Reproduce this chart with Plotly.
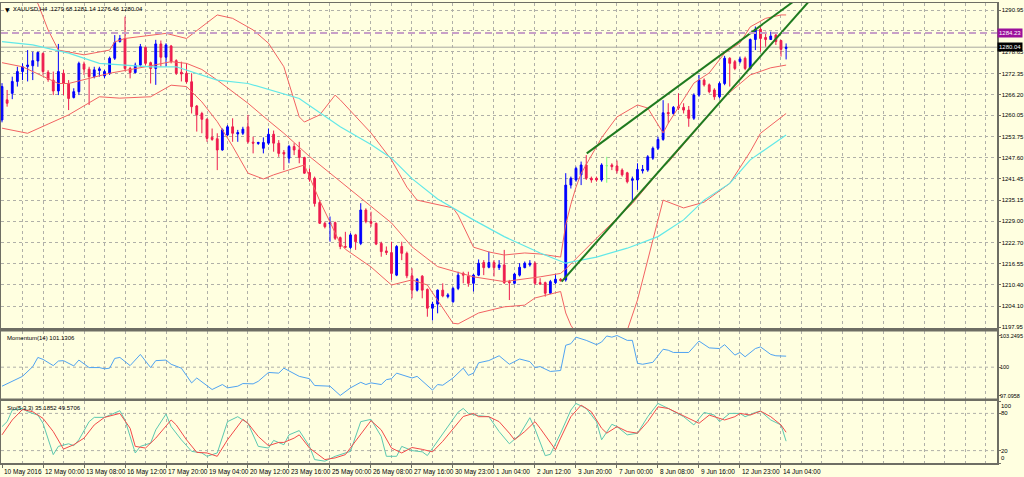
import plotly.graph_objects as go

# ---------------- data ----------------
bars = list(range(154))
open_ = [
    1258.7, 1264.6, 1266.5, 1270.0, 1272.9, 1274.4, 1274.6, 1276.0, 1278.2, 1272.7,
    1270.4, 1267.2, 1272.4, 1269.4, 1265.3, 1267.0, 1275.1, 1273.6, 1271.4, 1273.2,
    1271.6, 1272.4, 1276.8, 1281.7, 1282.6, 1273.8, 1272.6, 1274.8, 1280.0, 1275.5,
    1273.8, 1281.0, 1277.1, 1280.4, 1276.1, 1272.7, 1272.4, 1269.9, 1262.8, 1260.6,
    1258.9, 1253.6, 1253.2, 1249.9, 1254.3, 1256.7, 1254.6, 1254.8, 1256.7, 1252.2,
    1251.8, 1250.4, 1251.9, 1254.5, 1251.9, 1249.2, 1247.5, 1250.9, 1249.9, 1247.7,
    1243.3, 1241.6, 1234.5, 1228.4, 1228.2, 1228.6, 1224.2, 1221.6, 1221.3, 1225.0,
    1222.5, 1232.3, 1228.9, 1228.4, 1222.5, 1220.3, 1219.8, 1213.2, 1221.6, 1219.6,
    1213.0, 1208.8, 1212.9, 1209.0, 1203.5, 1204.7, 1208.8, 1206.9, 1205.4, 1209.3,
    1213.7, 1212.9, 1210.8, 1213.2, 1216.9, 1215.5, 1216.9, 1215.4, 1216.2, 1211.3,
    1210.8, 1213.2, 1215.4, 1216.2, 1216.7, 1211.0, 1211.0, 1207.9, 1211.0, 1212.0,
    1211.8, 1239.6, 1241.1, 1242.6, 1245.5, 1241.6, 1241.6, 1241.1, 1245.3, 1245.5,
    1245.2, 1244.0, 1243.2, 1241.0, 1241.1, 1243.8, 1244.0, 1247.5, 1250.4, 1253.0,
    1260.9, 1260.6, 1262.6, 1262.4, 1261.6, 1259.2, 1266.0, 1270.4, 1269.0, 1267.5,
    1265.5, 1269.4, 1276.8, 1275.8, 1275.8, 1276.8, 1273.8, 1282.3, 1285.3, 1282.9,
    1282.3, 1283.6, 1282.0, 1279.68]
high = [
    1269.5, 1267.5, 1271.4, 1274.3, 1275.3, 1279.2, 1278.7, 1278.7, 1278.5, 1273.3,
    1272.9, 1281.0, 1273.4, 1270.4, 1268.0, 1275.8, 1275.8, 1274.3, 1274.3, 1274.3,
    1273.4, 1277.3, 1283.6, 1283.6, 1289.0, 1274.3, 1275.5, 1281.0, 1280.2, 1275.8,
    1282.2, 1282.0, 1281.2, 1280.7, 1276.5, 1275.8, 1275.3, 1272.4, 1263.1, 1261.1,
    1259.2, 1256.2, 1254.8, 1256.2, 1257.2, 1259.2, 1255.8, 1256.7, 1260.2, 1253.8,
    1252.3, 1253.6, 1256.2, 1255.6, 1252.8, 1249.9, 1251.4, 1251.9, 1252.3, 1247.9,
    1244.5, 1242.1, 1235.2, 1228.9, 1230.4, 1228.9, 1224.5, 1225.9, 1225.5, 1225.3,
    1234.3, 1232.8, 1231.8, 1228.6, 1223.0, 1221.6, 1223.0, 1222.0, 1223.0, 1220.1,
    1215.2, 1212.3, 1213.2, 1209.3, 1205.4, 1209.0, 1210.8, 1207.9, 1209.8, 1214.2,
    1214.2, 1214.2, 1213.5, 1217.8, 1217.6, 1220.1, 1217.6, 1217.6, 1220.6, 1211.8,
    1213.9, 1216.7, 1217.2, 1217.6, 1217.2, 1212.3, 1211.3, 1211.8, 1213.5, 1212.3,
    1243.1, 1242.1, 1245.0, 1246.5, 1248.4, 1242.1, 1242.1, 1246.0, 1247.9, 1246.0,
    1246.8, 1244.5, 1243.5, 1242.1, 1246.0, 1245.5, 1248.4, 1250.9, 1253.8, 1264.5,
    1263.6, 1262.8, 1266.5, 1263.6, 1262.8, 1266.5, 1271.9, 1270.9, 1269.4, 1268.0,
    1269.9, 1277.5, 1277.1, 1276.3, 1277.3, 1277.3, 1282.6, 1286.1, 1285.9, 1284.6,
    1284.6, 1284.1, 1282.2, 1281.14]
low = [
    1258.0, 1262.6, 1264.8, 1268.5, 1270.4, 1270.0, 1270.4, 1274.3, 1271.9, 1269.9,
    1266.0, 1266.0, 1266.0, 1261.6, 1265.0, 1266.0, 1271.9, 1263.1, 1270.9, 1271.4,
    1270.9, 1271.9, 1276.3, 1281.4, 1273.0, 1270.9, 1272.4, 1274.3, 1274.8, 1269.4,
    1269.0, 1274.3, 1274.3, 1275.3, 1271.9, 1270.0, 1269.4, 1260.6, 1255.3, 1254.8,
    1252.3, 1252.6, 1244.0, 1249.7, 1254.0, 1252.3, 1252.3, 1254.3, 1251.8, 1248.9,
    1251.4, 1248.9, 1251.4, 1249.4, 1247.9, 1244.0, 1246.0, 1248.4, 1246.0, 1242.9,
    1240.6, 1233.3, 1228.2, 1226.9, 1223.0, 1223.5, 1220.8, 1221.1, 1220.9, 1220.6,
    1222.0, 1228.4, 1227.4, 1222.0, 1218.6, 1219.1, 1211.8, 1212.9, 1217.6, 1212.3,
    1206.4, 1208.4, 1206.4, 1201.0, 1199.9, 1202.0, 1206.7, 1206.4, 1205.1, 1208.8,
    1210.8, 1209.8, 1208.4, 1212.9, 1213.2, 1215.2, 1212.8, 1214.7, 1210.6, 1205.9,
    1210.5, 1212.8, 1215.2, 1215.7, 1210.3, 1210.3, 1206.9, 1207.7, 1210.6, 1211.3,
    1211.3, 1238.6, 1240.6, 1239.6, 1241.1, 1240.3, 1240.6, 1240.6, 1240.3, 1244.0,
    1243.0, 1242.1, 1240.1, 1235.2, 1238.2, 1243.0, 1243.5, 1247.0, 1249.9, 1252.6,
    1257.7, 1260.2, 1261.6, 1260.6, 1256.7, 1258.7, 1265.5, 1268.5, 1266.5, 1264.6,
    1265.0, 1268.9, 1268.5, 1273.3, 1275.3, 1273.3, 1273.5, 1279.2, 1278.7, 1280.2,
    1282.2, 1280.7, 1277.3, 1276.46]
close = [
    1268.5, 1263.6, 1270.0, 1272.9, 1274.3, 1274.8, 1276.1, 1278.5, 1272.9, 1270.6,
    1267.2, 1272.9, 1269.4, 1265.0, 1267.0, 1275.3, 1273.6, 1271.4, 1273.4, 1273.7,
    1272.9, 1276.8, 1281.4, 1282.6, 1273.8, 1272.6, 1274.8, 1280.2, 1275.3, 1273.8,
    1281.0, 1277.1, 1280.7, 1275.8, 1272.4, 1272.2, 1269.9, 1262.6, 1260.2, 1258.9,
    1253.3, 1253.0, 1249.9, 1255.8, 1256.7, 1254.8, 1255.0, 1256.0, 1252.3, 1251.9,
    1252.1, 1252.1, 1254.5, 1251.9, 1248.9, 1248.7, 1250.9, 1249.9, 1247.7, 1243.1,
    1241.3, 1234.2, 1228.4, 1227.4, 1228.6, 1224.0, 1221.6, 1221.4, 1225.0, 1223.0,
    1232.3, 1228.9, 1228.4, 1222.3, 1220.1, 1219.8, 1213.7, 1221.6, 1219.6, 1213.0,
    1208.8, 1212.0, 1208.8, 1203.5, 1204.7, 1208.8, 1207.1, 1207.4, 1209.3, 1213.2,
    1213.2, 1210.8, 1213.2, 1216.7, 1215.4, 1216.9, 1215.4, 1216.2, 1211.0, 1211.0,
    1213.5, 1215.5, 1216.7, 1216.7, 1210.8, 1210.6, 1207.9, 1211.3, 1212.0, 1211.6,
    1239.6, 1241.6, 1244.5, 1245.5, 1241.6, 1241.1, 1241.1, 1245.5, 1245.3, 1245.0,
    1243.8, 1242.6, 1240.6, 1241.4, 1244.2, 1244.2, 1247.9, 1250.4, 1253.0, 1260.8,
    1260.5, 1262.4, 1262.2, 1261.6, 1259.2, 1266.0, 1270.4, 1269.0, 1267.0, 1265.5,
    1269.4, 1276.8, 1275.3, 1273.8, 1276.6, 1273.8, 1282.3, 1285.3, 1282.6, 1282.3,
    1283.3, 1281.7, 1279.4, 1280.04]
doji_bars = [118]

x_label_bars = [0, 8, 16, 24, 32, 40, 48, 56, 64, 72, 80, 88, 96, 104, 112, 120, 128, 136, 144, 152]
x_labels = ["10 May 2016", "12 May 00:00", "13 May 08:00", "16 May 12:00", "17 May 20:00",
            "19 May 04:00", "20 May 12:00", "23 May 16:00", "25 May 00:00", "26 May 08:00",
            "27 May 16:00", "30 May 23:00", "1 Jun 04:00", "2 Jun 12:00", "3 Jun 20:00",
            "7 Jun 00:00", "8 Jun 08:00", "9 Jun 16:00", "12 Jun 23:00", "14 Jun 04:00"]
grid_bars = list(range(0, 196, 4))

price_ticks = [1290.95, 1284.80, 1278.65, 1272.35, 1266.20, 1260.05, 1253.75, 1247.60,
               1241.45, 1235.15, 1229.00, 1222.70, 1216.55, 1210.40, 1204.10, 1197.95]
price_tick_text = ["1290.95", "", "1278.65", "1272.35", "1266.20", "1260.05", "1253.75", "1247.60",
                   "1241.45", "1235.15", "1229.00", "1222.70", "1216.55", "1210.40", "1204.10", "1197.95"]
alert_price = 1284.23
bid_price = 1280.04

# Bollinger bands (upper / middle / lower) and cyan moving average, vertices
bb_up_bars = [0, 4, 7, 9, 11, 16, 21, 22, 24, 32, 36, 39, 42, 45, 49, 52, 55, 58, 59, 62, 65, 66,
              72, 76, 79, 81, 85, 88, 89, 92, 95, 98, 102, 105, 109, 110, 111, 112, 113, 117, 120,
              124, 126, 129, 130, 133, 135, 138, 141, 144, 146, 149, 152, 153]
bb_up_vals = [1300.0, 1297.0, 1292.9, 1285.1, 1279.2, 1277.8, 1279.2, 1281.6, 1282.6, 1284.1, 1282.6,
              1286.1, 1289.5, 1288.5, 1285.1, 1281.2, 1274.3, 1259.6, 1258.1, 1260.2, 1266.0, 1264.6,
              1254.9, 1247.0, 1239.0, 1235.2, 1233.8, 1232.9, 1230.8, 1221.4, 1220.0, 1219.1, 1219.7,
              1219.4, 1218.5, 1228.0, 1234.0, 1239.0, 1243.0, 1253.5, 1259.6, 1263.1, 1262.2, 1254.9,
              1257.7, 1264.6, 1269.5, 1272.5, 1278.3, 1281.3, 1286.0, 1288.5, 1289.5, 1289.5]
bb_mid_bars = [0, 4, 8, 11, 13, 17, 21, 28, 33, 36, 39, 42, 45, 48, 52, 55, 60, 66, 71, 76, 80, 85,
               92, 98, 105, 109, 110, 113, 117, 123, 129, 130, 135, 141, 146, 150, 153]
bb_mid_vals = [1275.5, 1274.3, 1271.5, 1269.4, 1269.4, 1270.8, 1272.4, 1274.3, 1275.8, 1275.3, 1273.5,
               1270.4, 1267.0, 1263.6, 1258.5, 1254.8, 1248.0, 1240.6, 1234.5, 1228.5, 1221.5, 1215.7,
               1212.7, 1211.3, 1212.7, 1213.7, 1215.0, 1219.6, 1225.5, 1234.2, 1245.0, 1246.3, 1255.0,
               1265.5, 1271.9, 1274.0, 1274.8]
bb_low_bars = [0, 5, 9, 13, 19, 23, 29, 33, 36, 39, 42, 45, 48, 51, 53, 59, 62, 66, 67, 72, 76, 80,
               83, 88, 89, 93, 98, 102, 104, 109, 110, 111, 113, 116, 119, 122, 124, 129, 133, 137,
               142, 146, 148, 153]
bb_low_vals = [1256.3, 1254.8, 1257.5, 1260.2, 1265.5, 1265.1, 1265.5, 1268.9, 1268.5, 1264.0, 1258.2,
               1251.0, 1243.1, 1241.4, 1242.6, 1245.5, 1235.0, 1222.5, 1220.8, 1215.6, 1210.3, 1211.8,
               1210.3, 1199.1, 1198.9, 1202.1, 1203.9, 1204.4, 1206.5, 1208.4, 1202.1, 1198.5, 1194.0,
               1191.0, 1191.5, 1197.0, 1205.9, 1235.2, 1232.9, 1234.6, 1240.1, 1249.4, 1254.8, 1260.6]
ma_bars = [0, 6, 13, 19, 29, 34, 42, 48, 58, 66, 72, 76, 80, 85, 92, 98, 105, 110, 116, 122, 128,
           133, 137, 142, 146, 153]
ma_vals = [1281.7, 1280.7, 1278.3, 1275.3, 1274.3, 1274.3, 1270.4, 1269.4, 1265.0, 1256.7, 1251.5,
           1247.5, 1241.5, 1235.5, 1229.4, 1224.5, 1219.7, 1216.7, 1218.5, 1221.1, 1224.5, 1229.4,
           1235.2, 1240.1, 1247.0, 1254.3]

# two green trend lines (anchor points)
trend_up_bars = [114.1, 154.4]
trend_up_vals = [1248.9, 1293.4]
trend_low_bars = [109.2, 157.7]
trend_low_vals = [1211.3, 1293.9]

# Momentum(14)
mom_bars = [0, 2, 4, 6, 7, 8, 10, 11, 12, 14, 15, 17, 19, 20, 21, 22, 23, 25, 27, 29,
            30, 32, 33, 35, 37, 38, 41, 43, 44, 46, 47, 49, 50, 52, 54, 55, 57, 58, 60, 61,
            64, 66, 68, 70, 71, 72, 74, 75, 76, 77, 80, 81, 84, 85, 86, 88, 90, 91, 92, 93,
            95, 97, 99, 101, 103, 104, 105, 107, 109, 110, 111, 112, 114, 116, 117, 118, 119, 120, 122, 123,
            124, 125, 127, 129, 130, 131, 134, 136, 138, 140, 141, 143, 144, 145, 147, 148, 150, 151, 153]
mom_vals = [98.05, 98.55, 99.06, 100.06, 101.0, 100.8, 100.16, 100.63, 100.67, 100.13,
            100.73, 99.96, 99.96, 99.83, 99.9, 100.9, 101.0, 100.16, 101.31, 99.96,
            100.67, 100.73, 100.3, 99.9, 98.39, 98.89, 97.71, 98.22, 97.88, 98.05,
            98.32, 98.29, 98.55, 99.46, 99.39, 99.9, 99.39, 99.06, 98.82, 98.12,
            98.05, 97.10, 97.88, 98.45, 98.22, 98.39, 98.22, 98.72, 98.82, 99.39,
            98.89, 99.06, 97.65, 98.22, 98.15, 98.89, 99.9, 99.16, 99.39, 100.45,
            100.68, 101.17, 100.3, 100.84, 100.57, 99.96, 100.06, 99.56, 99.66, 102.25,
            102.41, 103.08, 102.75, 102.31, 102.58, 103.2, 103.08, 103.25, 102.75, 102.75,
            100.4, 100.3, 100.5, 101.84, 101.74, 101.51, 101.51, 102.68, 101.98, 101.91,
            102.31, 101.24, 101.51, 101.07, 101.91, 102.08, 101.31, 101.17, 101.13]
mom_max, mom_min = 103.2495, 97.0958

# Stochastic(5,3,3): main (teal) and signal (red)
sto_k_bars = [0, 1, 2, 4, 5, 7, 8, 10, 11, 13, 14, 15, 17, 18, 20, 22, 23, 24, 26, 27, 29, 30, 32, 33,
              35, 37, 39, 40, 42, 44, 46, 48, 50, 52, 53, 55, 56, 58, 60, 61, 63, 65, 66, 68, 70, 72,
              74, 75, 77, 78, 80, 82, 83, 85, 87, 89, 90, 91, 92, 93, 95, 97, 99, 101, 103, 104, 106,
              107, 109, 111, 112, 114, 116, 117, 119, 120, 122, 124, 126, 128, 130, 131, 133, 135, 137,
              139, 140, 142, 144, 145, 147, 148, 150, 152, 153]
sto_k_vals = [58.7, 66.7, 85.3, 88.0, 82.7, 77.3, 64.0, 13.5, 26.8, 31.0, 27.9, 37.4, 66.7, 73.6, 73.6,
              80.0, 84.3, 69.4, 16.2, 26.8, 32.1, 53.4, 78.9, 58.7, 37.4, 18.8, 16.2, 10.8, 16.2, 66.7,
              74.7, 64.0, 26.8, 24.1, 36.4, 29.5, 45.4, 52.3, 26.8, 5.5, 2.9, 10.8, 13.5, 18.8, 66.7,
              70.4, 42.8, 10.8, 10.8, 26.8, 20.0, 18.0, 12.0, 35.0, 60.0, 82.0, 88.0, 80.0, 78.0, 76.3,
              74.7, 50.7, 31.0, 45.4, 73.1, 55.0, 11.8, 14.0, 48.1, 85.3, 96.0, 88.0, 66.7, 37.4, 62.4,
              58.7, 45.4, 48.1, 74.7, 96.0, 88.0, 83.7, 74.7, 61.4, 81.6, 77.3, 66.7, 80.0, 80.0, 74.7,
              81.6, 83.7, 69.4, 61.4, 35.19]
sto_d_bars = [0, 2, 4, 6, 8, 10, 12, 14, 16, 18, 20, 22, 23, 25, 26, 28, 30, 33, 34, 36, 38, 40, 42,
              44, 47, 48, 50, 52, 54, 55, 57, 58, 60, 63, 65, 67, 69, 72, 74, 76, 78, 80, 82, 84, 86,
              88, 90, 92, 93, 95, 97, 99, 100, 102, 104, 105, 108, 109, 111, 113, 115, 117, 118, 120,
              122, 124, 126, 128, 130, 132, 134, 136, 138, 141, 143, 144, 146, 148, 150, 152, 153]
sto_d_vals = [45.4, 69.4, 86.4, 82.7, 72.0, 50.7, 22.5, 29.5, 40.1, 61.4, 73.6, 78.4, 80.0, 56.0, 26.8,
              24.1, 40.1, 69.4, 61.4, 37.4, 17.2, 16.2, 10.8, 37.4, 70.4, 64.0, 42.8, 27.9, 33.2, 33.2,
              40.1, 45.4, 24.1, 5.5, 8.2, 13.5, 34.8, 68.3, 53.4, 24.1, 16.2, 25.0, 22.0, 18.0, 35.0,
              55.0, 75.0, 80.0, 74.7, 74.7, 66.7, 48.1, 37.4, 50.7, 66.7, 56.0, 21.4, 40.1, 74.7, 93.3,
              82.7, 56.0, 48.1, 58.7, 50.7, 48.1, 66.7, 90.6, 88.0, 80.0, 72.0, 64.0, 77.3, 69.4, 74.7,
              80.0, 77.3, 83.7, 74.7, 61.4, 49.57]

header_text = "XAUUSD,H4  1279.68 1281.14 1276.46 1280.04"
mom_text = "Momentum(14) 101.1306"
sto_text = "Sto(5,3,3) 35.1852 49.5706"

# ---------------- layout geometry ----------------
W, H = 1024, 477
ML, MR, MT, MB = 1, 27, 3, 14
PH = H - MT - MB


def yfrac(ypix):
    return (H - MB - ypix) / PH


main_dom = [yfrac(328), 1.0]
mom_dom = [yfrac(399), yfrac(331)]
sto_dom = [0.0, yfrac(401)]

BG = "#FFFFE0"
GRID = "#B0B0A8"
FRAME = "#6E6E64"
BULL = "#0000FF"
BEAR = "#EE1C4E"
FONT = "Liberation Sans, Arial, sans-serif"

fig = go.Figure()

reg = [i for i in bars if i not in doji_bars]
fig.add_trace(go.Candlestick(
    x=reg, open=[open_[i] for i in reg], high=[high[i] for i in reg],
    low=[low[i] for i in reg], close=[close[i] for i in reg],
    increasing=dict(line=dict(color=BULL, width=1), fillcolor=BULL),
    decreasing=dict(line=dict(color=BEAR, width=1), fillcolor=BEAR),
    whiskerwidth=0, xaxis="x", yaxis="y", hoverinfo="skip"))
fig.add_trace(go.Candlestick(
    x=doji_bars, open=[open_[i] for i in doji_bars], high=[high[i] for i in doji_bars],
    low=[low[i] for i in doji_bars], close=[close[i] for i in doji_bars],
    increasing=dict(line=dict(color="#7CFC7C", width=1), fillcolor="#7CFC7C"),
    decreasing=dict(line=dict(color="#7CFC7C", width=1), fillcolor="#7CFC7C"),
    whiskerwidth=0, xaxis="x", yaxis="y", hoverinfo="skip"))

band_style = dict(color="#F26262", width=1)
for bx, bv in [(bb_up_bars, bb_up_vals), (bb_mid_bars, bb_mid_vals), (bb_low_bars, bb_low_vals)]:
    fig.add_trace(go.Scatter(x=bx, y=bv, mode="lines", line=band_style, xaxis="x", yaxis="y",
                             hoverinfo="skip"))
fig.add_trace(go.Scatter(x=ma_bars, y=ma_vals, mode="lines", line=dict(color="#62E8E8", width=1.2),
                         xaxis="x", yaxis="y", hoverinfo="skip"))
for tx, tv in [(trend_up_bars, trend_up_vals), (trend_low_bars, trend_low_vals)]:
    fig.add_trace(go.Scatter(x=tx, y=tv, mode="lines", line=dict(color="#1F7A1F", width=2),
                             xaxis="x", yaxis="y", hoverinfo="skip"))

fig.add_trace(go.Scatter(x=mom_bars, y=mom_vals, mode="lines", line=dict(color="#4FA3F2", width=1),
                         xaxis="x2", yaxis="y2", hoverinfo="skip"))
fig.add_trace(go.Scatter(x=sto_k_bars, y=sto_k_vals, mode="lines", line=dict(color="#5CC8B0", width=1),
                         xaxis="x3", yaxis="y3", hoverinfo="skip"))
fig.add_trace(go.Scatter(x=sto_d_bars, y=sto_d_vals, mode="lines", line=dict(color="#F24A4A", width=1),
                         xaxis="x3", yaxis="y3", hoverinfo="skip"))

XR = [-0.195, 194.15]
major = x_label_bars
minor = [b for b in grid_bars if b not in x_label_bars]


def xax(anchor, ticks):
    return dict(range=XR, domain=[0, 1], anchor=anchor, automargin=False, showgrid=True, gridcolor=GRID,
                griddash="3px,3px", gridwidth=1, tickmode="array", tickvals=major,
                showticklabels=False, ticks=ticks, ticklen=3, tickcolor=FRAME,
                minor=dict(tickmode="array", tickvals=minor, showgrid=True, gridcolor=GRID,
                           griddash="3px,3px", ticks=""),
                showline=True, mirror=True, linecolor=FRAME, linewidth=1.5, zeroline=False,
                rangeslider=dict(visible=False), fixedrange=True)


p_top = 1290.95 + (10 - 3) / 3.41
p_bot = 1290.95 - (328 - 10) / 3.41
mom_scale = (395.5 - 335.5) / (mom_max - mom_min)
mom_top = mom_max + (335.5 - 331) / mom_scale
mom_bot = mom_min - (399 - 395.5) / mom_scale

tickfont = dict(family=FONT, size=6, color="#000000")
fig.update_layout(
    width=W, height=H, margin=dict(l=ML, r=MR, t=MT, b=MB, autoexpand=False),
    paper_bgcolor=BG, plot_bgcolor=BG, showlegend=False, hovermode=False,
    boxgap=0.5,
    xaxis=xax("y", ""), xaxis2=xax("y2", ""), xaxis3=xax("y3", "outside"),
    yaxis=dict(domain=main_dom, range=[p_bot, p_top], side="right", anchor="x", automargin=False,
               tickmode="array", tickvals=price_ticks, ticktext=price_tick_text,
               tickfont=tickfont, ticks="outside", ticklen=2, tickcolor=FRAME,
               showgrid=True, gridcolor=GRID, griddash="3px,3px", gridwidth=1,
               showline=True, mirror=True, linecolor=FRAME, linewidth=1.5, zeroline=False,
               fixedrange=True),
    yaxis2=dict(domain=mom_dom, range=[mom_bot, mom_top], side="right", anchor="x2", automargin=False,
                tickmode="array", tickvals=[mom_min, 100, mom_max], showticklabels=False,
                ticks="outside", ticklen=2, tickcolor=FRAME, showgrid=False,
                showline=True, mirror=True, linecolor=FRAME, linewidth=1.5, zeroline=False,
                fixedrange=True),
    yaxis3=dict(domain=sto_dom, range=[0, 100], side="right", anchor="x3", automargin=False,
                tickmode="array", tickvals=[0, 20, 80, 100], showticklabels=False,
                ticks="outside", ticklen=2, tickcolor=FRAME, showgrid=False,
                showline=True, mirror=True, linecolor=FRAME, linewidth=1.5, zeroline=False,
                fixedrange=True),
)

shapes = []
grid_line = dict(color=GRID, width=1, dash="3px,3px")
shapes.append(dict(type="line", xref="paper", x0=0, x1=1, yref="y2", y0=100, y1=100, line=grid_line,
                   layer="below"))
for lv in (20, 80):
    shapes.append(dict(type="line", xref="paper", x0=0, x1=1, yref="y3", y0=lv, y1=lv, line=grid_line,
                       layer="below"))
shapes.append(dict(type="line", xref="paper", x0=0, x1=1, yref="y", y0=bid_price, y1=bid_price,
                   line=dict(color="#A8A8A0", width=1), layer="below"))
shapes.append(dict(type="line", xref="paper", x0=0, x1=1, yref="y", y0=alert_price, y1=alert_price,
                   line=dict(color="#C8A0C8", width=2, dash="7px,4px"), layer="above"))
for y0p, y1p in [(328, 331.5), (398.5, 401)]:
    shapes.append(dict(type="rect", xref="paper", x0=0, x1=1, yref="paper", y0=yfrac(y1p), y1=yfrac(y0p),
                       fillcolor="#6E6E64", line=dict(width=0), layer="above"))
fig.update_layout(shapes=shapes)

ann = []
small = dict(family=FONT, size=6, color="#000000")
tiny = dict(family=FONT, size=5.5, color="#000000")
ann.append(dict(text="▼", xref="paper", yref="paper", x=0, xshift=2, y=1, yshift=-1, xanchor="left",
                yanchor="top", showarrow=False, font=dict(family="DejaVu Sans", size=6, color="#000000")))
ann.append(dict(text=header_text, xref="paper", yref="paper", x=0, xshift=10, y=1, yshift=-1,
                xanchor="left", yanchor="top", showarrow=False, font=small))
ann.append(dict(text=mom_text, xref="paper", yref="paper", x=0, xshift=4, y=mom_dom[1], yshift=-2,
                xanchor="left", yanchor="top", showarrow=False, font=small))
ann.append(dict(text=sto_text, xref="paper", yref="paper", x=0, xshift=4, y=sto_dom[1], yshift=-2,
                xanchor="left", yanchor="top", showarrow=False, font=small))
for b, t in zip(x_label_bars, x_labels):
    ann.append(dict(text=t, xref="x3", yref="paper", x=b, xshift=0, y=0, yshift=-3, xanchor="left",
                    yanchor="top", showarrow=False, font=dict(family=FONT, size=6.5, color="#000000")))
for v, t in [(mom_max, "103.2495"), (100, "100"), (mom_min, "97.0958")]:
    ann.append(dict(text=t, xref="paper", yref="y2", x=1, xshift=1, y=v, xanchor="left", yanchor="middle",
                    showarrow=False, font=tiny))
for v, t, ya in [(100, "100", "top"), (80, "80", "middle"), (20, "20", "middle"), (0, "0", "bottom")]:
    ann.append(dict(text=t, xref="paper", yref="y3", x=1, xshift=2, y=v, xanchor="left", yanchor=ya,
                    showarrow=False, font=small))
ann.append(dict(text="1284.23", xref="paper", yref="y", x=1, xshift=0, y=alert_price, xanchor="left",
                yanchor="middle", showarrow=False, bgcolor="#9B109B", borderpad=1,
                font=dict(family=FONT, size=6, color="#FFFFFF")))
ann.append(dict(text="1280.04", xref="paper", yref="y", x=1, xshift=0, y=bid_price, xanchor="left",
                yanchor="middle", showarrow=False, bgcolor="#000000", borderpad=1,
                font=dict(family=FONT, size=6, color="#FFFFFF")))
fig.update_layout(annotations=ann)

fig.write_html("out.html", config={"displayModeBar": False, "staticPlot": True},
               post_script="document.body.style.margin='0px';document.body.style.background='#FFFFE0';")
